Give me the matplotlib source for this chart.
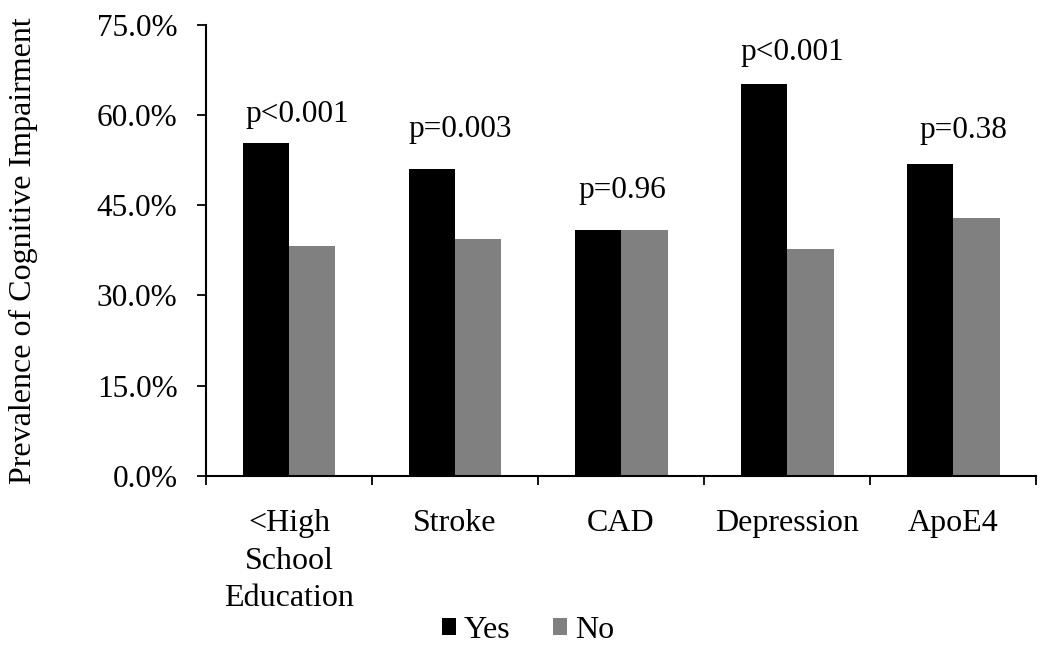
import numpy as np
import matplotlib
matplotlib.use('Agg')
import matplotlib.pyplot as plt
from matplotlib.ticker import FuncFormatter, FixedLocator

########################################################################################################
# data
categories = ['<High\nSchool\nEducation', 'Stroke', 'CAD', 'Depression', 'ApoE4']
yes_vals = [55.3, 51.0, 40.9, 65.1, 51.9]
no_vals = [38.3, 39.3, 40.9, 37.7, 42.8]
p_labels = ['p<0.001', 'p=0.003', 'p=0.96', 'p<0.001', 'p=0.38']
p_label_y = [58.8, 56.3, 46.2, 69.1, 56.1]
p_label_dx = [0.05, 0.03, 0.01, 0.03, 0.06]
y_ticks = [0, 15, 30, 45, 60, 75]

########################################################################################################
plt.rcParams['font.family'] = ['Liberation Serif', 'DejaVu Serif']

fig = plt.figure(figsize=(10.5, 6.53), dpi=100)
ax = fig.add_axes([0.1962, 0.2711, 0.7905, 0.6911])

x = np.arange(len(categories))
w = 0.28
ax.bar(x - w / 2, yes_vals, w, color='#000000', label='Yes')
ax.bar(x + w / 2, no_vals, w, color='#808080', label='No')

for i in range(len(categories)):
	ax.text(x[i] + p_label_dx[i], p_label_y[i], p_labels[i], ha='center', va='baseline', fontsize=22.5)

ax.set_xlim(-0.5, len(categories) - 0.5)
ax.set_ylim(0, 75)
ax.set_yticks(y_ticks)
ax.yaxis.set_major_formatter(FuncFormatter(lambda v, pos: '%.1f%%' % v))
ax.tick_params(axis='y', direction='out', length=6.5, width=1.3, pad=14, labelsize=22.5)

ax.set_xticks(x)
ax.set_xticklabels(categories, fontsize=23, linespacing=1.39)
ax.xaxis.set_minor_locator(FixedLocator(np.arange(-0.5, len(categories), 1.0)))
ax.tick_params(axis='x', which='major', length=0, pad=24)
ax.tick_params(axis='x', which='minor', direction='out', length=6.5, width=1.3)

for side in ['top', 'right']:
	ax.spines[side].set_visible(False)
for side in ['left', 'bottom']:
	ax.spines[side].set_linewidth(1.5)

ax.set_ylabel('Prevalence of Cognitive Impairment', fontsize=23)
ax.yaxis.set_label_coords(-0.202, 0.5)

fig.legend(loc='center', bbox_to_anchor=(528 / 1050.0, 1 - 630 / 653.0), ncol=2, frameon=False,
	fontsize=23, handlelength=0.44, handleheight=0.44, handletextpad=0.25, columnspacing=1.35)

plt.savefig('out.png', dpi=100)
